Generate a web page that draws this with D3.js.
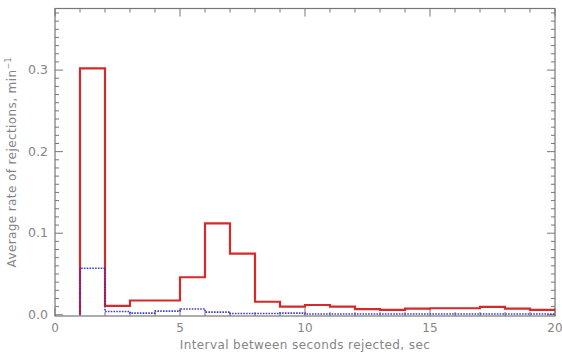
<!DOCTYPE html>
<html><head><meta charset="utf-8">
<script src="https://cdn.jsdelivr.net/npm/d3@7"></script>
<style>body{margin:0;background:#fff}svg{display:block}</style>
</head><body>
<script>
const binStarts = [1,2,3,4,5,6,7,8,9,10,11,12,13,14,15,16,17,18,19];
const redValues = [0.302,0.011,0.0175,0.0175,0.046,0.112,0.075,0.016,0.010,0.012,0.010,0.007,0.006,0.0075,0.008,0.008,0.0098,0.0075,0.006];
const blueValues = [0.057,0.004,0.002,0.0045,0.007,0.0033,0.0015,0.0015,0.002,0.001,0.001,0.001,0.001,0.001,0.001,0.001,0.001,0.001,0.001];
const xTicks = [0,5,10,15,20];
const yTicks = [0.0,0.1,0.2,0.3];
const xLabel = "Interval between seconds rejected, sec";

const W=562,H=354;
const m={l:55,r:7,t:8.5,b:38};
const svg=d3.select("body").append("svg").attr("width",W).attr("height",H);
const x=d3.scaleLinear().domain([0,20]).range([m.l,W-m.r]);
const y=d3.scaleLinear().domain([-0.0015,0.3755]).range([H-m.b,m.t]);
const axisCol="#777", textCol="#858585";
const font="DejaVu Sans";

// frame
svg.append("rect").attr("x",x(0)).attr("y",y.range()[1]).attr("width",x(20)-x(0)).attr("height",y.range()[0]-y.range()[1])
  .attr("fill","none").attr("stroke",axisCol).attr("stroke-width",1.2);

// ticks inward, all four sides
const g=svg.append("g").attr("stroke",axisCol).attr("stroke-width",1);
const xMinor=d3.range(0,21,1);
xMinor.forEach(v=>{
  const len = v%5===0?8:4;
  g.append("line").attr("x1",x(v)).attr("x2",x(v)).attr("y1",y.range()[0]).attr("y2",y.range()[0]-len);
  g.append("line").attr("x1",x(v)).attr("x2",x(v)).attr("y1",y.range()[1]).attr("y2",y.range()[1]+len);
});
const yMinor=d3.range(0,38,1).map(i=>i/100);
yMinor.forEach((v,i)=>{
  const len = i%10===0?8:4;
  g.append("line").attr("y1",y(v)).attr("y2",y(v)).attr("x1",x(0)).attr("x2",x(0)+len);
  g.append("line").attr("y1",y(v)).attr("y2",y(v)).attr("x1",x(20)).attr("x2",x(20)-len);
});

// tick labels
svg.append("g").selectAll("text").data(xTicks).join("text")
  .attr("x",d=>x(d)).attr("y",y.range()[0]+16).attr("text-anchor","middle")
  .attr("font-family",font).attr("font-size",12).attr("fill",textCol).text(d=>d);
svg.append("g").selectAll("text").data(yTicks).join("text")
  .attr("x",x(0)-7).attr("y",d=>y(d)+4).attr("text-anchor","end")
  .attr("font-family",font).attr("font-size",12.5).attr("fill",textCol).text(d=>d3.format(".1f")(d));

// axis titles
svg.append("text").attr("x",(x(0)+x(20))/2).attr("y",H-5).attr("text-anchor","middle")
  .attr("font-family",font).attr("font-size",12).attr("letter-spacing",0.4).attr("fill",textCol).text(xLabel);
const yl=svg.append("text").attr("transform",`translate(16,${(y.range()[0]+y.range()[1])/2}) rotate(-90)`)
  .attr("text-anchor","middle").attr("font-family",font).attr("font-size",12).attr("letter-spacing",0.4).attr("fill",textCol);
yl.append("tspan").text("Average rate of rejections, min");
yl.append("tspan").attr("dy",-5).attr("font-size",8).text("−1");

function steps(vals){
  const pts=[[binStarts[0],0]];
  vals.forEach((v,i)=>{pts.push([binStarts[i],v]);pts.push([binStarts[i]+1,v]);});
  return pts;
}
const line=d3.line().x(d=>x(d[0])).y(d=>y(d[1]));
svg.append("path").attr("d",line(steps(redValues))).attr("fill","none").attr("stroke","#d42a2a").attr("stroke-width",2.2);
svg.append("path").attr("d",line(steps(blueValues))).attr("fill","none").attr("stroke","#2a2ad0").attr("stroke-width",1.6).attr("stroke-dasharray","1.6,1.2").attr("opacity",0.9);
</script>
</body></html>
